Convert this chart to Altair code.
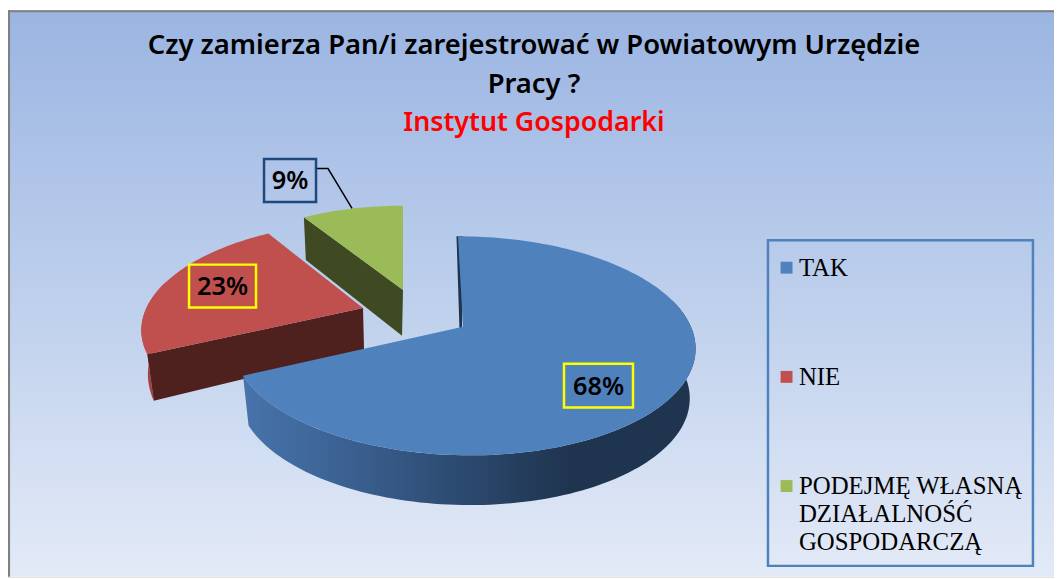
import math
import altair as alt
import pandas as pd

categories = ["TAK", "NIE", "PODEJMĘ WŁASNĄ|DZIAŁALNOŚĆ|GOSPODARCZĄ"]
shares = [68, 23, 9]
top_colors = ["#4F81BD", "#C0504D", "#9BBB59"]
label_texts = ["68%", "23%", "9%"]
label_x = [598.5, 222.5, 290]
label_y = [385, 285, 179]
label_stroke = ["#FFFF00", "#FFFF00", "#1F497D"]
box_w = [69, 67, 52]
box_h = [44, 43, 43]

title_lines = ["Czy zamierza Pan/i zarejestrować w Powiatowym Urzędzie", "Pracy ?"]
subtitle_line = "Instytut Gospodarki"

# per-slice layout of the exploded tilted pie: apex, scale, shear, lower apex, lower scale
layout = [
    dict(ax=463, ay=326, s=1.0, shear=0.055, lx=463, ly=376, sx=0.975, sy=1.0),
    dict(ax=363, ay=307, s=0.95, shear=-0.088, lx=364, ly=349, sx=0.975, sy=1.1),
    dict(ax=403, ay=289, s=0.93, shear=0.0, lx=402, ly=335, sx=0.97, sy=1.04),
]
A, B, K = 228.0, 106.7, 0.1728
FX = 1070 / 1062  # the full-bleed page is photographed slightly reduced
FY = 581 / 579


def top_pt(theta, p):
    t = math.radians(theta)
    X, Y = math.sin(t), math.cos(t)
    w = 1 + K * Y
    dx, dy = A * X / w * p["s"], -B * Y / w * p["s"]
    return (dx + p["shear"] * dy, dy)


def up(theta, p):
    d = top_pt(theta, p)
    return [p["ax"] + d[0], p["ay"] + d[1]]


def low(theta, p):
    d = top_pt(theta, p)
    return [p["lx"] + d[0] * p["sx"], p["ly"] + d[1] * p["sy"]]


def arc(t0, t1):
    n = max(2, int(abs(t1 - t0) / 1.5))
    return [t0 + (t1 - t0) * i / n for i in range(n + 1)]


def feature(name, ring):
    ring = ring + [ring[0]]
    ring = [[a * FX, b * FY] for a, b in ring]
    return {
        "type": "Feature",
        "properties": {"name": name},
        "geometry": {"type": "Polygon", "coordinates": [ring]},
    }


edges = [0]
for v in shares:
    edges.append(edges[-1] + v * 3.6)

legend_names = categories


def top_face(i):
    p = layout[i]
    ring = [[p["ax"], p["ay"]]] + [up(t, p) for t in arc(edges[i], edges[i + 1])]
    return feature(legend_names[i], ring)


def rim(i, t0, t1):
    p = layout[i]
    ts = arc(t0, t1)
    return feature("rim", [up(t, p) for t in ts] + [low(t, p) for t in reversed(ts)])


def cut(i, t):
    p = layout[i]
    return feature("cut", [[p["ax"], p["ay"]], up(t, p), low(t, p), [p["lx"], p["ly"]]])


proj = alt.Projection(type="identity", scale=1, translate=[-8, -8])


def geo(features, **kw):
    return alt.Chart(alt.Data(values=features)).mark_geoshape(strokeWidth=0, **kw).project(**proj.to_dict())


W, H = 1054, 571
x_s = alt.Scale(domain=[8 / FX, (8 + W) / FX], range=[0, W])
y_s = alt.Scale(domain=[8 / FY, (8 + H) / FY], range=[0, H])
X = lambda f: alt.X(f + ":Q", scale=x_s, axis=None)
Y = lambda f: alt.Y(f + ":Q", scale=y_s, axis=None)

bg_grad = alt.LinearGradient(
    gradient="linear", x1=0, x2=0, y1=0, y2=1,
    stops=[
        alt.GradientStop(color="#9BB5E2", offset=0),
        alt.GradientStop(color="#BDCFEC", offset=0.5),
        alt.GradientStop(color="#E3EAF7", offset=1),
    ],
)
rim_grad = alt.LinearGradient(
    gradient="linear", x1=0, x2=1, y1=0, y2=0,
    stops=[
        alt.GradientStop(color="#4774AB", offset=0),
        alt.GradientStop(color="#3A5F8F", offset=0.25),
        alt.GradientStop(color="#2B486D", offset=0.5),
        alt.GradientStop(color="#1F344F", offset=0.72),
        alt.GradientStop(color="#1F344F", offset=1),
    ],
)

x_start, y_start = 8 / FX, 8 / FY
x_end, y_end = (8 + W) / FX, (8 + H) / FY
frame = pd.DataFrame({"x": [x_start], "x2": [x_end], "y": [y_start], "y2": [y_end]})
bg = alt.Chart(frame).mark_rect(fill=bg_grad).encode(
    x=X("x"), x2="x2:Q", y=Y("y"), y2="y2:Q"
)
border_top = alt.Chart(pd.DataFrame({"x": [x_start], "x2": [x_end], "y": [y_start], "y2": [10]})).mark_rect(fill="#808080").encode(
    x=X("x"), x2="x2:Q", y=Y("y"), y2="y2:Q"
)
border_left = alt.Chart(pd.DataFrame({"x": [x_start], "x2": [10], "y": [y_start], "y2": [y_end]})).mark_rect(fill="#808080").encode(
    x=X("x"), x2="x2:Q", y=Y("y"), y2="y2:Q"
)

blue_p = layout[0]
strip_start = up(0, blue_p)
strip_start[0] -= 1.5
strip = feature("cut", [strip_start, [blue_p["ax"] - 3.5, blue_p["ay"] + 3], [blue_p["ax"] - 1, blue_p["ay"] + 3], up(1.5, blue_p)])

walls = [
    geo([cut(2, edges[2])], fill="#3F4A22"),
    geo([rim(1, edges[1], 285)], fill="#A8403D"),
    geo([cut(1, edges[1])], fill="#4F211E"),
    geo([strip], fill="#1F344F"),
    geo([rim(0, 75, edges[1])], fill=rim_grad),
]

tops = (
    alt.Chart(alt.Data(values=[top_face(i) for i in range(3)]))
    .mark_geoshape(strokeWidth=0)
    .encode(
        color=alt.Color(
            "properties.name:N",
            scale=alt.Scale(domain=legend_names, range=top_colors),
            legend=alt.Legend(
                title=None,
                orient="none",
                legendX=772,
                legendY=247,
                symbolType="square",
                symbolSize=144,
                symbolStrokeWidth=0,
                labelFont="Liberation Serif",
                labelFontSize=25,
                labelColor="#000000",
                labelLimit=320,
                labelBaseline="top",
                labelOffset=0,
                labelExpr="split(datum.label, '|')",
                rowPadding=84,
                padding=0,
            ),
        )
    )
    .project(**proj.to_dict())
)

legend_box = alt.Chart(pd.DataFrame({"x": [768], "x2": [1033], "y": [239], "y2": [566]})).mark_rect(
    fill="transparent", stroke="#4F81BD", strokeWidth=2.5
).encode(x=X("x"), x2="x2:Q", y=Y("y"), y2="y2:Q")

lab = pd.DataFrame({
    "t": label_texts,
    "x": label_x,
    "y": label_y,
    "c": label_stroke,
    "x0": [a - w / 2 for a, w in zip(label_x, box_w)],
    "x1": [a + w / 2 for a, w in zip(label_x, box_w)],
    "y0": [a - h / 2 for a, h in zip(label_y, box_h)],
    "y1": [a + h / 2 for a, h in zip(label_y, box_h)],
})
label_boxes = alt.Chart(lab).mark_rect(fill="transparent", strokeWidth=2.5).encode(
    x=X("x0"), x2="x1:Q", y=Y("y0"), y2="y1:Q",
    stroke=alt.Stroke("c:N", scale=None),
)
label_text = alt.Chart(lab).mark_text(
    font="Noto Sans", fontSize=25.5, fontWeight=600, color="#000000", align="center", baseline="middle", dy=1
).encode(x=X("x"), y=Y("y"), text="t:N")

lead = pd.DataFrame({"x": [317, 328, 352], "y": [167, 167, 207], "o": [0, 1, 2]})
leader = alt.Chart(lead).mark_line(color="#000000", strokeWidth=1.5).encode(
    x=X("x"), y=Y("y"), order="o:Q"
)

chart = (
    alt.layer(bg, border_top, border_left, *walls, tops, legend_box, leader, label_boxes, label_text)
    .properties(
        width=W,
        height=H,
        padding=0,
        autosize=alt.AutoSizeParams(type="none"),
        background="#FFFFFF",
        title=alt.TitleParams(
            text=title_lines,
            subtitle=subtitle_line,
            anchor="middle",
            dy=131,
            dx=3,
            font="Noto Sans",
            fontSize=27.6,
            fontWeight=600,
            color="#000000",
            lineHeight=39,
            subtitleFont="Noto Sans",
            subtitleFontSize=27,
            subtitleFontWeight=600,
            subtitleColor="#FF0000",
            subtitleLineHeight=39,
            subtitlePadding=12,
        ),
    )
    .configure_view(stroke=None)
    .configure(style={"guide-label": {"lineHeight": 28, "dy": -12}})
)

chart.save("out.html", embed_options={"renderer": "svg", "actions": False})
